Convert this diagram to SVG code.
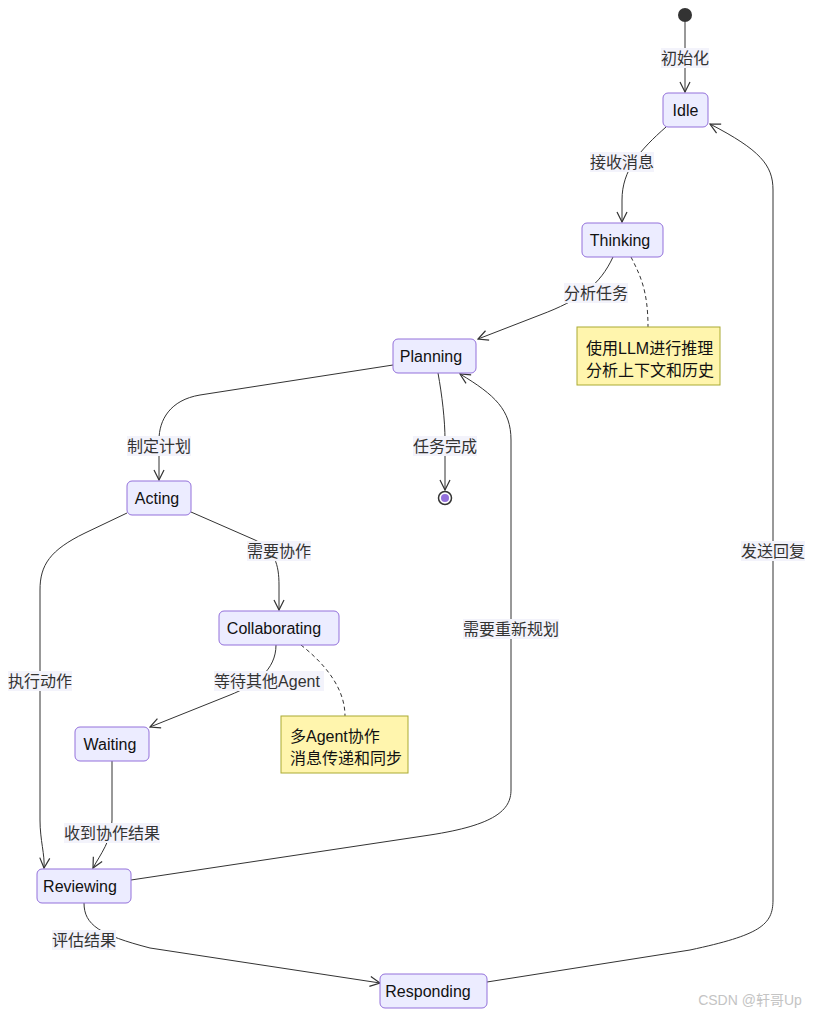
<svg xmlns="http://www.w3.org/2000/svg" width="815" height="1016" viewBox="0 0 815 1016">
<style>
.node rect{fill:#ECECFF;stroke:#9370DB;stroke-width:1}
.node text,.note text{font-family:"Liberation Sans","Noto Sans CJK SC",sans-serif;font-size:16px;fill:#111}
.node text{text-anchor:middle;dominant-baseline:central}
.note rect{fill:#fff5ad;stroke:#aaaa33;stroke-width:1}
.edge{fill:none;stroke:#333;stroke-width:1}
.dash{fill:none;stroke:#333;stroke-width:1;stroke-dasharray:4 3}
.lbl rect{fill:#f3f3fb}
.lbl text{font-family:"Liberation Sans","Noto Sans CJK SC",sans-serif;font-size:16px;fill:#333;text-anchor:middle;dominant-baseline:central}
</style>
<defs>
<marker id="arr" viewBox="0 0 12 12" refX="11" refY="6" markerWidth="12" markerHeight="12" orient="auto" markerUnits="userSpaceOnUse">
<path d="M1,1 L11,6 L1,11" fill="none" stroke="#333" stroke-width="1.2"/>
</marker>
</defs>
<g id="connectors">
<path class="edge" d="M685,22 L685,92" marker-end="url(#arr)"/>
<path class="edge" d="M666,127 C640,150 622,170 622,200 L622,222" marker-end="url(#arr)"/>
<path class="edge" d="M613,257 C600,285 580,300 540,315 L478,339" marker-end="url(#arr)"/>
<path class="dash" d="M631,257 C640,275 648,290 648,327"/>
<path class="edge" d="M393,365 L200,395 C170,400 159,420 159,440 L159,480" marker-end="url(#arr)"/>
<path class="edge" d="M438,373 C442,395 445,420 445,440 L445,490" marker-end="url(#arr)"/>
<path class="edge" d="M191,512 L255,540 C275,550 279,565 279,585 L279,610" marker-end="url(#arr)"/>
<path class="dash" d="M301,645 C320,660 345,685 345,716"/>
<path class="edge" d="M276,645 C276,670 255,685 230,695 L150,727" marker-end="url(#arr)"/>
<path class="edge" d="M127,513 L85,533 C50,550 40,565 40,590 L40,820 C40,840 45,855 44,868" marker-end="url(#arr)"/>
<path class="edge" d="M112,761 L112,820 C112,840 100,855 93,868" marker-end="url(#arr)"/>
<path class="edge" d="M131,880 L430,835 C495,825 511,810 511,790 L511,440 C511,410 495,395 460,374" marker-end="url(#arr)"/>
<path class="edge" d="M84,903 C84,925 100,935 150,948 L380,983" marker-end="url(#arr)"/>
<path class="edge" d="M487,982 L690,950 C760,935 773,925 773,900 L773,190 C773,165 760,150 710,124" marker-end="url(#arr)"/>
</g>
<g class="lbl" id="labels">
<rect x="661" y="48" width="48" height="20"/><text x="685" y="58">初始化</text>
<rect x="590" y="152" width="64" height="20"/><text x="622" y="162">接收消息</text>
<rect x="564" y="283" width="64" height="20"/><text x="596" y="293">分析任务</text>
<rect x="127" y="436" width="64" height="20"/><text x="159" y="446">制定计划</text>
<rect x="413" y="436" width="64" height="20"/><text x="445" y="446">任务完成</text>
<rect x="247" y="541" width="64" height="20"/><text x="279" y="551">需要协作</text>
<rect x="214" y="671" width="110" height="20"/><text x="267" y="681">等待其他Agent</text>
<rect x="8" y="671" width="64" height="20"/><text x="40" y="681">执行动作</text>
<rect x="463" y="619" width="96" height="20"/><text x="511" y="629">需要重新规划</text>
<rect x="741" y="541" width="64" height="20"/><text x="773" y="551">发送回复</text>
<rect x="64" y="823" width="96" height="20"/><text x="112" y="833">收到协作结果</text>
<rect x="52" y="930" width="64" height="20"/><text x="84" y="940">评估结果</text>
</g>
<g id="start"><circle cx="685" cy="15" r="7" fill="#333"/></g>
<g id="end"><circle cx="445" cy="498" r="6.5" fill="#fff" stroke="#333" stroke-width="1.5"/><circle cx="445" cy="498" r="4" fill="#9370DB"/></g>
<g class="node" id="Idle"><rect x="663" y="93" width="45" height="34" rx="5"/><text x="685.5" y="110">Idle</text></g>
<g class="node" id="Thinking"><rect x="582" y="223" width="81" height="34" rx="5"/><text x="620" y="240">Thinking</text></g>
<g class="node" id="Planning"><rect x="393" y="339" width="83" height="34" rx="5"/><text x="431" y="356">Planning</text></g>
<g class="node" id="Acting"><rect x="127" y="481" width="64" height="34" rx="5"/><text x="157" y="498">Acting</text></g>
<g class="node" id="Collaborating"><rect x="219" y="611" width="120" height="34" rx="5"/><text x="274" y="628">Collaborating</text></g>
<g class="node" id="Waiting"><rect x="75" y="727" width="74" height="34" rx="5"/><text x="110" y="744">Waiting</text></g>
<g class="node" id="Reviewing"><rect x="37" y="869" width="94" height="34" rx="5"/><text x="80" y="886">Reviewing</text></g>
<g class="node" id="Responding"><rect x="380" y="974" width="107" height="34" rx="5"/><text x="428" y="991">Responding</text></g>
<g class="note" id="note1"><rect x="577" y="327" width="143" height="58"/><text x="586" y="354">使用LLM进行推理</text><text x="586" y="376">分析上下文和历史</text></g>
<g class="note" id="note2"><rect x="281" y="716" width="127" height="57"/><text x="290" y="742">多Agent协作</text><text x="290" y="764">消息传递和同步</text></g>
<text x="750" y="1005" font-family="Liberation Sans,'Noto Sans CJK SC',sans-serif" font-size="14" fill="#c4c4c4" text-anchor="middle">CSDN @轩哥Up</text>
</svg>
